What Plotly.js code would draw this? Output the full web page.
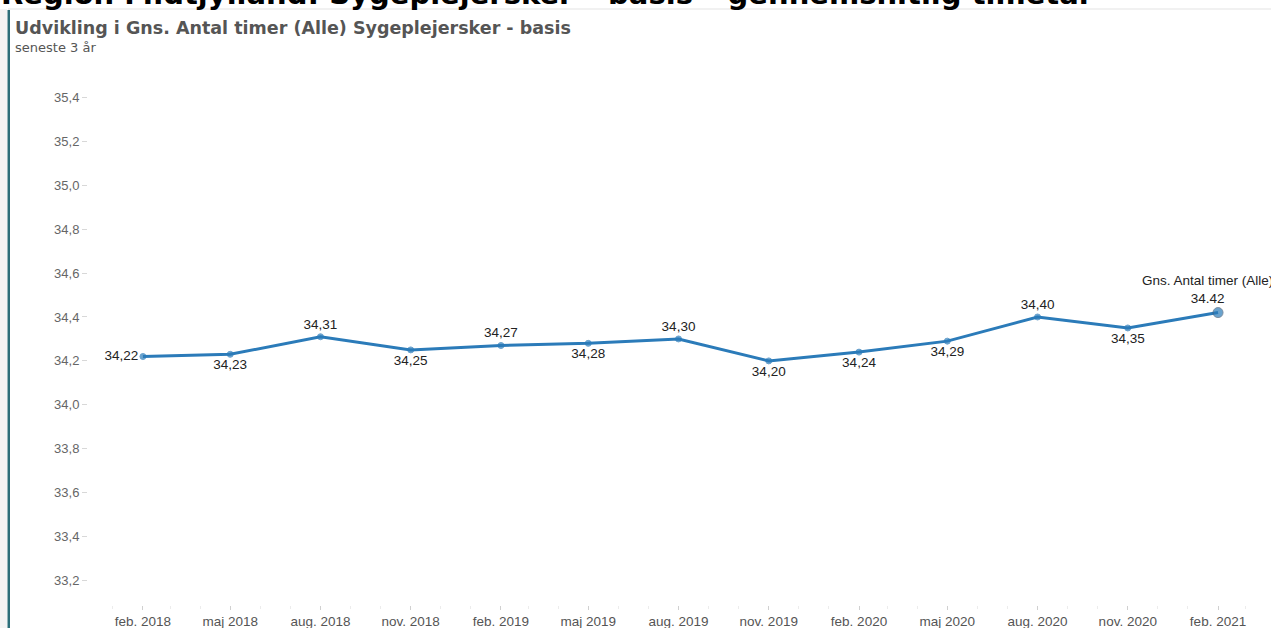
<!DOCTYPE html>
<html>
<head>
<meta charset="utf-8">
<script src="https://cdn.plot.ly/plotly-3.0.1.min.js"></script>
<style>
html,body{margin:0;padding:0;background:#fff;}
#chart{width:1271px;height:628px;}
</style>
</head>
<body>
<div id="chart"></div>
<script>
// ---- data ----
const dates = ['2018-02-01','2018-05-01','2018-08-01','2018-11-01','2019-02-01','2019-05-01','2019-08-01','2019-11-01','2020-02-01','2020-05-01','2020-08-01','2020-11-01','2021-02-01'];
const tickLabels = ['feb. 2018','maj 2018','aug. 2018','nov. 2018','feb. 2019','maj 2019','aug. 2019','nov. 2019','feb. 2020','maj 2020','aug. 2020','nov. 2020','feb. 2021'];
const values = [34.22,34.23,34.31,34.25,34.27,34.28,34.30,34.20,34.24,34.29,34.40,34.35,34.42];
const labelPos = ['middle left','bottom center','top center','bottom center','top center','bottom center','top center','bottom center','bottom center','bottom center','top center','bottom center','top center'];
const seriesName = 'Gns. Antal timer (Alle)';
const mainTitle = 'Region Midtjylland: Sygeplejersker – basis – gennemsnitlig timetal';
const subTitle = 'Udvikling i Gns. Antal timer (Alle) Sygeplejersker - basis';
const subSubTitle = 'seneste 3 år';

// ---- layout constants ----
const W = 1271, H = 628;
const M = {l: 88, r: 0, t: 70, b: 23};
const PW = W - M.l - M.r, PH = H - M.t - M.b;
const px = x => (x - M.l) / PW;
const py = y => (H - M.b - y) / PH;

const last = values.length - 1;
const pointText = values.map((v, i) => i === last ? '' : v.toFixed(2).replace('.', ','));

const color = '#2b7bb9';

const trace = {
  x: dates,
  y: values,
  type: 'scatter',
  mode: 'lines+markers+text',
  line: {color: color, width: 3},
  marker: {
    color: color,
    size: values.map((v, i) => i === last ? 10 : 6),
    line: {color: values.map((v, i) => i === last ? '#44607c' : color), width: 1}
  },
  text: pointText,
  textposition: labelPos,
  textfont: {family: 'Liberation Sans, Arial, sans-serif', size: 13.5, color: '#222'},
  cliponaxis: false,
  hoverinfo: 'x+y'
};

const layout = {
  width: W, height: H,
  margin: M,
  paper_bgcolor: '#fff',
  plot_bgcolor: '#fff',
  separators: ',.',
  showlegend: false,
  font: {family: 'Liberation Sans, Arial, sans-serif'},
  xaxis: {
    type: 'date',
    range: ['2017-12-07', '2021-03-27'],
    tickmode: 'array',
    tickvals: dates,
    ticktext: tickLabels,
    ticks: 'outside',
    ticklen: 4,
    tickcolor: '#d0d0d0',
    tickfont: {size: 13.5, color: '#555'},
    showgrid: false,
    zeroline: false,
    showline: false,
    minor: {tick0: '2018-01-01', dtick: 'M1', ticks: 'outside', ticklen: 3, tickcolor: '#ececec', showgrid: false}
  },
  yaxis: {
    range: [33.0883, 35.5248],
    tickmode: 'linear',
    tick0: 33.2,
    dtick: 0.2,
    tickformat: '.1f',
    ticks: 'outside',
    ticklen: 5,
    tickcolor: '#d8d8d8',
    tickfont: {size: 13, color: '#666'},
    showgrid: false,
    zeroline: false,
    showline: false
  },
  shapes: [
    {type: 'rect', xref: 'paper', yref: 'paper', x0: px(0), x1: px(7), y0: py(H), y1: py(9), fillcolor: '#f4f4f4', line: {width: 0}, layer: 'below'},
    {type: 'rect', xref: 'paper', yref: 'paper', x0: px(7.5), x1: px(10), y0: py(H), y1: py(10), fillcolor: '#2c6e79', line: {width: 0}},
    {type: 'line', xref: 'paper', yref: 'paper', x0: px(8), x1: px(W), y0: py(9), y1: py(9), line: {color: '#ececec', width: 1.5}}
  ],
  annotations: [
    {xref: 'paper', yref: 'paper', x: px(-1), y: py(13), xanchor: 'left', yanchor: 'bottom', showarrow: false,
     text: '<b>' + mainTitle + '</b>', font: {family: 'DejaVu Sans, sans-serif', size: 29, color: '#000'}},
    {xref: 'paper', yref: 'paper', x: px(13), y: py(28), xanchor: 'left', yanchor: 'middle', showarrow: false,
     text: '<b>' + subTitle + '</b>', font: {family: 'DejaVu Sans, sans-serif', size: 17.5, color: '#555'}},
    {xref: 'paper', yref: 'paper', x: px(13), y: py(48), xanchor: 'left', yanchor: 'middle', showarrow: false,
     text: subSubTitle, font: {family: 'DejaVu Sans, sans-serif', size: 13, color: '#555'}},
    {x: dates[last], y: values[last], xref: 'x', yref: 'y', showarrow: false, yanchor: 'bottom', yshift: 5, xshift: -11,
     text: seriesName + '<br>' + values[last].toFixed(2),
     font: {family: 'Liberation Sans, Arial, sans-serif', size: 13.5, color: '#222'}}
  ]
};

Plotly.newPlot('chart', [trace], layout, {displayModeBar: false, staticPlot: true});
</script>
</body>
</html>
